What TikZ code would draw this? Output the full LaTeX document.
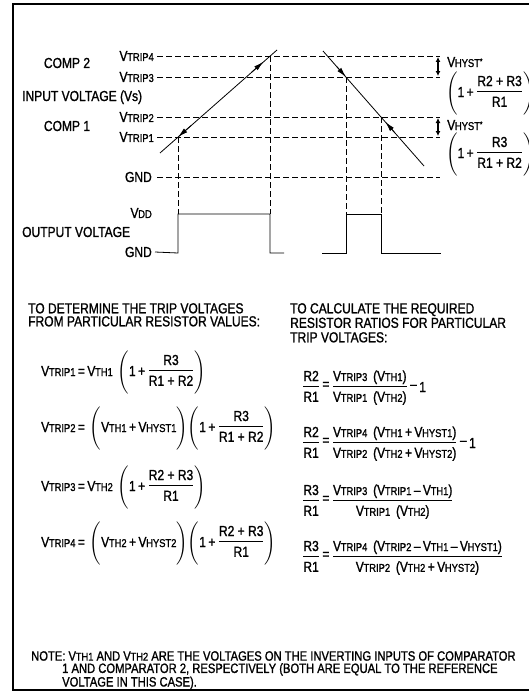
\documentclass[tikz,border=0pt]{standalone}
\usepackage{amsmath}
\usepackage{fontspec}
\setmainfont[FakeStretch=0.83,FakeBold=1.2]{Liberation Sans}
\usetikzlibrary{arrows.meta,calc}
\newcommand\Vx[1]{\mbox{V\kern-0.3pt{\fontsize{11.3}{10}\selectfont #1}}}
\newcommand\fr[2]{\raisebox{2.5pt}{$\genfrac{}{}{0.6pt}{1}{\mbox{\rule[-4pt]{0pt}{10pt}#1}}{\mbox{\rule{0pt}{15pt}#2}}$}}
\newcommand\bp[1]{\left(\rule[-19pt]{0pt}{45pt}#1\right)}
\newcommand\eqs{\mbox{\,=\,}}
\newcommand\req{\mbox{\,\raisebox{3pt}{=}\,}}
\newcommand\pl{\mbox{\,+\,}}
\newcommand\mi{\mbox{\,\raisebox{3pt}{--}\,}}
\newcommand\tp{\,+\,}
\newcommand\tm{\,--\,}
\begin{document}
\begin{tikzpicture}[x=1pt,y=-1pt,
  every node/.style={font=\fontsize{14.5}{13}\selectfont},
  dline/.style={dash pattern=on 6pt off 3pt, line width=0.7pt},
  sline/.style={line width=0.8pt},
  lbl/.style={inner sep=0pt},
  tip/.style={-{Latex[length=10pt,width=5pt]}, line width=0.8pt},
  hyst/.style={{Latex[length=5pt,width=5pt]}-{Latex[length=5pt,width=5pt]}, line width=1.6pt}]
\useasboundingbox (0,0) rectangle (529,693);
% frame
\draw[line width=1.4pt] (529,4) -- (13,4) -- (13,690) -- (529,690);
% level labels
\node[lbl, anchor=east] (t4) at (154,56) {\Vx{TRIP4}};
\node[lbl, anchor=east] (t3) at (154,77) {\Vx{TRIP3}};
\node[lbl, anchor=east] (t2) at (154,117) {\Vx{TRIP2}};
\node[lbl, anchor=east] (t1) at (154,137) {\Vx{TRIP1}};
\node[lbl, anchor=east] (g1) at (152,177) {GND};
\node[lbl, anchor=east] (vdd) at (152,213) {\Vx{DD}};
\node[lbl, anchor=east] (g2) at (152,252) {GND};
\node[lbl] (c2) at (67,63) {COMP 2};
\node[lbl, anchor=base west] (iv) at (22,101) {INPUT VOLTAGE (Vs)};
\node[lbl] (c1) at (67,126) {COMP 1};
\node[lbl, anchor=west] (ov) at (22,232) {OUTPUT VOLTAGE};
% dashed levels
\coordinate (e4) at (440,56); \coordinate (e3) at (440,77);
\coordinate (e2) at (440,117); \coordinate (e1) at (440,137);
\coordinate (eg) at (440,177);
\draw[dline] ([xshift=3pt]t4.east) -- (e4);
\draw[dline] ([xshift=3pt]t3.east) -- (e3);
\draw[dline] ([xshift=3pt]t2.east) -- (e2);
\draw[dline] ([xshift=3pt]t1.east) -- (e1);
\draw[dline] ([xshift=5pt]g1.east) -- (eg);
% input ramps
\coordinate (rs) at (160,153); \coordinate (re) at (277,50);
\coordinate (C) at (178,137); \coordinate (D) at (270,56);
\coordinate (fs) at (323,51); \coordinate (fe) at (424,166);
\coordinate (A) at (346,77); \coordinate (B) at (381,117);
\draw[sline] (rs) -- (re);
\draw[sline] (fs) -- (fe);
\draw[tip] ($(C)!0.8!(D)$) -- ($(C)!0.93!(D)$);
\draw[tip] ($(C)!0.14!(D)$) -- (C);
\draw[tip] ($(A)!0.4!(fs)$) -- (A);
\draw[tip] ($(B)!0.32!(fe)$) -- ($(B)!0.1!(fe)$);
% output
\coordinate (o1) at (178,214); \coordinate (o2) at (270,214);
\coordinate (o3) at (346,214); \coordinate (o4) at (381,214);
\draw[dline] (C) -- (o1);
\draw[dline] (D) -- (o2);
\draw[dline] (A) -- (o3);
\draw[dline] (B) -- (o4);
\draw[sline] ([xshift=3pt]g2.east) -- (178,253) -- (o1) -- (o2) -- (270,253) -- (284,253);
\draw[sline] (322,253) -- (346,253) -- (o3) -- (o4) -- (381,253) -- (441,253);
% hysteresis marks
\coordinate (ha) at (438,57); \coordinate (hb) at (438,76);
\coordinate (hc) at (438,118); \coordinate (hd) at (438,136);
\draw[hyst] (ha) -- (hb);
\draw[hyst] (hc) -- (hd);
\node[lbl, anchor=base west] (h1) at (447,67) {\Vx{HYST}\raisebox{3pt}{\fontsize{8}{8}\selectfont *}};
\node[lbl, anchor=base west] (x1) at (446,97) {$\bp{\mbox{1}\pl\fr{R2 + R3}{R1}}$};
\node[lbl, anchor=base west] (h2) at (447,130) {\Vx{HYST}\raisebox{3pt}{\fontsize{8}{8}\selectfont *}};
\node[lbl, anchor=base west] (x2) at (446,158) {$\bp{\mbox{1}\pl\fr{R3}{R1 + R2}}$};
% headings
\node[lbl, anchor=north west, align=left] (hl) at (28,303) {TO DETERMINE THE TRIP VOLTAGES\\FROM PARTICULAR RESISTOR VALUES:};
\node[lbl, anchor=north west, align=left, font=\fontsize{14.5}{14.5}\selectfont] (hr) at (290,303) {TO CALCULATE THE REQUIRED\\RESISTOR RATIOS FOR PARTICULAR\\TRIP VOLTAGES:};
% left equations
\node[lbl, anchor=base west] (l1) at (41,376) {$\Vx{TRIP1}\eqs\Vx{TH1}\,\bp{\mbox{1}\pl\fr{R3}{R1 + R2}}$};
\node[lbl, anchor=base west] (l2) at (41,432) {$\Vx{TRIP2}\eqs\bp{\Vx{TH1}\pl\Vx{HYST1}}\!\bp{\mbox{1}\pl\fr{R3}{R1 + R2}}$};
\node[lbl, anchor=base west] (l3) at (41,491) {$\Vx{TRIP3}\eqs\Vx{TH2}\,\bp{\mbox{1}\pl\fr{R2 + R3}{R1}}$};
\node[lbl, anchor=base west] (l4) at (41,547) {$\Vx{TRIP4}\eqs\bp{\Vx{TH2}\pl\Vx{HYST2}}\!\bp{\mbox{1}\pl\fr{R2 + R3}{R1}}$};
% right equations
\node[lbl, anchor=base west] (r1) at (302,392) {$\fr{R2}{R1}\req\fr{\Vx{TRIP3}\, (\Vx{TH1})}{\Vx{TRIP1}\, (\Vx{TH2})}\mi\mbox{1}$};
\node[lbl, anchor=base west] (r2) at (302,448) {$\fr{R2}{R1}\req\fr{\Vx{TRIP4}\, (\Vx{TH1}\tp\Vx{HYST1})}{\Vx{TRIP2}\, (\Vx{TH2}\tp\Vx{HYST2})}\mi\mbox{1}$};
\node[lbl, anchor=base west] (r3) at (302,506) {$\fr{R3}{R1}\req\fr{\Vx{TRIP3}\, (\Vx{TRIP1}\tm\Vx{TH1})}{\Vx{TRIP1}\, (\Vx{TH2})}$};
\node[lbl, anchor=base west] (r4) at (302,562) {$\fr{R3}{R1}\req\fr{\Vx{TRIP4}\, (\Vx{TRIP2}\tm\Vx{TH1}\tm\Vx{HYST1})}{\Vx{TRIP2}\, (\Vx{TH2}\tp\Vx{HYST2})}$};
% note
\node[lbl, anchor=north west, align=left, font=\fontsize{13.5}{12.3}\selectfont] (nt) at (31,651) {NOTE: \Vx{TH1} AND \Vx{TH2} ARE THE VOLTAGES ON THE INVERTING INPUTS OF COMPARATOR\\\hspace*{31pt}1 AND COMPARATOR 2, RESPECTIVELY (BOTH ARE EQUAL TO THE REFERENCE\\\hspace*{31pt}VOLTAGE IN THIS CASE).};
\end{tikzpicture}
\end{document}
